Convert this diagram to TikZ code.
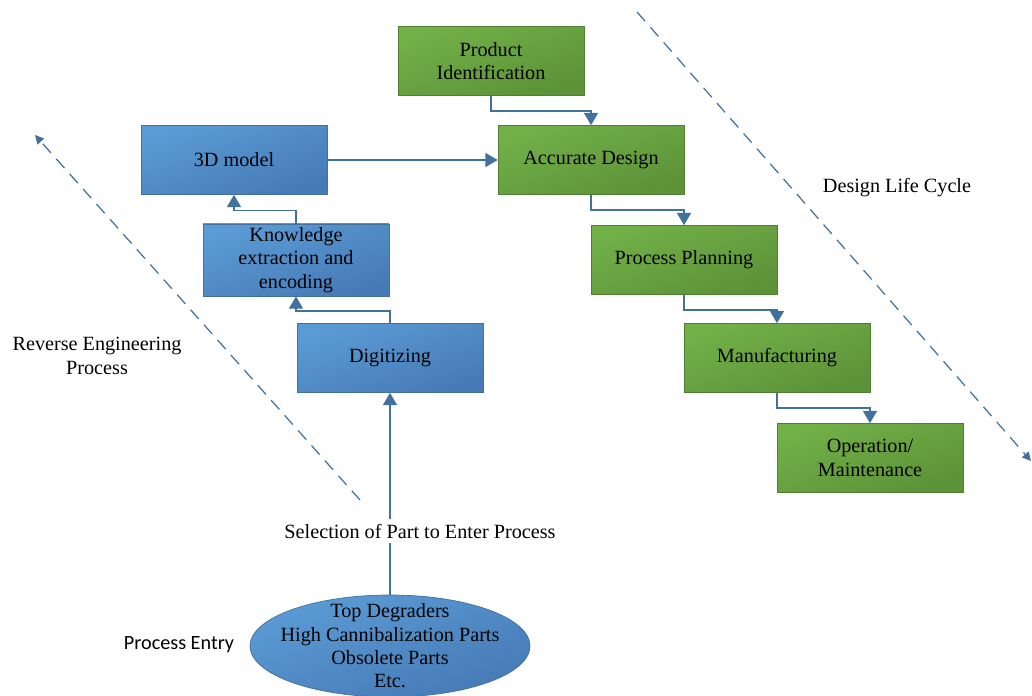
\documentclass[tikz,border=0pt]{standalone}
\usepackage{fontspec}
\setmainfont{Liberation Serif}
\newfontfamily\entryfont{Carlito}
\usepackage{xcolor}
\usetikzlibrary{arrows.meta, shapes.geometric}

\definecolor{bluetop}{RGB}{91,155,213}
\definecolor{bluebot}{RGB}{70,122,182}
\definecolor{blueline}{RGB}{65,113,156}
\definecolor{greentop}{RGB}{114,176,72}
\definecolor{greenbot}{RGB}{92,146,56}
\definecolor{greenline}{RGB}{80,126,50}

\begin{document}
\begin{tikzpicture}[x=0.02cm, y=-0.02cm,
    font=\fontsize{11.5}{13.3}\selectfont,
    rebox/.style={draw=blueline, top color=bluetop, bottom color=bluebot, shading angle=20,
        minimum width=3.72cm, minimum height=1.38cm, align=center, inner sep=2pt},
    dlbox/.style={draw=greenline, top color=greentop, bottom color=greenbot, shading angle=20,
        minimum width=3.72cm, minimum height=1.38cm, align=center, inner sep=2pt},
    arrow/.style={-{Triangle[width=8pt,length=7pt]}, draw=blueline, line width=0.8pt},
    phase/.style={dash pattern=on 7pt off 4.5pt, draw=blueline, line width=0.7pt,
        -{Triangle[width=5pt,length=5pt]}}
]
    \useasboundingbox (0,0) rectangle (1032,696);

    % Design life cycle
    \node[dlbox] (ident) at (491,61) {Product\\Identification};
    \node[dlbox] (design) at (591,160) {Accurate Design};
    \node[dlbox] (plan) at (684,260) {Process Planning};
    \node[dlbox] (manuf) at (777,358) {Manufacturing};
    \node[dlbox] (oper) at (870,458) {Operation/\\Maintenance};

    % Reverse engineering
    \node[rebox] (model) at (234,160) {3D model};
    \node[rebox] (knowl) at (296,260) {Knowledge\\extraction and\\encoding};
    \node[rebox] (digit) at (390,358) {Digitizing};

    % Process entry
    \node[ellipse, draw=blueline, top color=bluetop, bottom color=bluebot, shading angle=20,
        minimum width=5.6cm, minimum height=2.04cm, inner sep=0pt] (entry) at (390,646) {};
    \node[align=center] (entrytext) at (entry.center)
        {Top Degraders\\High Cannibalization Parts\\Obsolete Parts\\Etc.};

    % Side labels
    \node[align=center] (relabel) at (97,356) {Reverse Engineering\\Process};
    \node (dllabel) at (897,188) {Design Life Cycle};
    \node[font=\entryfont\fontsize{11.5}{13.3}\selectfont] (entrylabel) at (179,645) {Process Entry};

    % Phase arrows
    \coordinate (restart) at (360,500);
    \coordinate (reend) at (35,135);
    \coordinate (dlstart) at (637,12);
    \coordinate (dlend) at (1031,461);
    \draw[phase] (restart) -- (reend);
    \draw[phase] (dlstart) -- (dlend);

    % Arrows
    \draw[arrow] (ident.south) -- ++(0,15) -| (design.north);
    \draw[arrow] (design.south) -- ++(0,15) -| (plan.north);
    \draw[arrow] (plan.south) -- ++(0,15) -| (manuf.north);
    \draw[arrow] (manuf.south) -- ++(0,15) -| (oper.north);
    \draw[arrow] (model.east) -- (design.west);
    \draw[arrow] (knowl.north) -- ++(0,-13) -| (model.south);
    \draw[arrow] (digit.north) -- ++(0,-12) -| (knowl.south);
    \draw[arrow] (entry.north) -- (digit.south);
    \node[fill=white, inner sep=3pt] (select) at (420,531) {Selection of Part to Enter Process};
\end{tikzpicture}
\end{document}
